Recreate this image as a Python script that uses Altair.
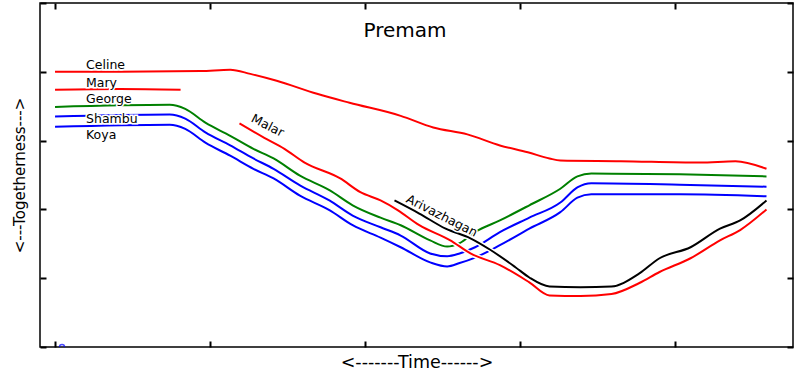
import altair as alt
import pandas as pd

# ---------------- data (x = time units, y = togetherness units) ----------------
TITLE = "Premam"
X_TITLE = "<-------Time------>"
Y_TITLE = "<---Togetherness--->"

series_names = ["Celine", "Mary", "George", "Shambu", "Koya", "Malar", "Arivazhagan"]
series_colors = ["#ff0000", "#ff0000", "#008000", "#0000ff", "#0000ff", "#ff0000", "#000000"]

celine_x = [0, 4.2, 9.4, 11.3, 12.6, 14.3, 16.9, 19.0, 22.3, 24.4, 26.6, 28.7, 30.5, 31.9, 32.6, 36.5, 41.6, 43.9, 45.9]
celine_y = [4.00, 4.00, 4.01, 4.03, 3.97, 3.87, 3.68, 3.55, 3.36, 3.19, 3.09, 2.93, 2.83, 2.74, 2.71, 2.70, 2.68, 2.70, 2.59]

mary_x = [0, 4.2, 8.1]
mary_y = [3.74, 3.75, 3.74]

group_x = [0, 7.4, 8.4, 9.7, 11.3, 12.8, 14.1, 15.8, 17.7, 19.2, 21.0, 22.3, 24.2, 25.3, 26.1, 27.1, 28.7, 30.6, 32.6, 33.7, 34.6, 40.3, 45.9]
george_y = [3.49, 3.52, 3.46, 3.26, 3.07, 2.88, 2.74, 2.49, 2.28, 2.06, 1.88, 1.77, 1.55, 1.46, 1.51, 1.67, 1.84, 2.06, 2.30, 2.48, 2.52, 2.51, 2.48]
shambu_y = [3.35, 3.38, 3.32, 3.12, 2.93, 2.74, 2.59, 2.35, 2.13, 1.91, 1.74, 1.62, 1.36, 1.32, 1.36, 1.45, 1.67, 1.88, 2.10, 2.32, 2.38, 2.36, 2.33]
koya_y = [3.20, 3.23, 3.17, 2.97, 2.78, 2.59, 2.45, 2.20, 1.99, 1.77, 1.59, 1.45, 1.23, 1.17, 1.22, 1.30, 1.48, 1.72, 1.96, 2.17, 2.22, 2.22, 2.19]

malar_x = [11.9, 13.5, 14.8, 16.1, 18.4, 19.7, 21.0, 22.1, 23.5, 25.5, 26.8, 28.7, 30.6, 31.9, 33.9, 35.9, 37.7, 39.0, 41.0, 42.9, 44.2, 45.9]
malar_y = [3.25, 3.04, 2.88, 2.68, 2.45, 2.25, 2.13, 1.99, 1.77, 1.55, 1.36, 1.19, 0.94, 0.75, 0.74, 0.77, 0.93, 1.09, 1.29, 1.55, 1.70, 2.00]

ariv_x = [21.9, 23.5, 25.2, 26.8, 28.1, 29.7, 30.6, 31.9, 33.9, 35.9, 37.7, 39.0, 41.0, 42.9, 44.2, 45.9]
ariv_y = [2.13, 1.94, 1.72, 1.58, 1.41, 1.16, 1.01, 0.88, 0.87, 0.88, 1.07, 1.29, 1.45, 1.72, 1.84, 2.13]

label_x = [2.0, 2.0, 2.0, 2.0, 2.0, 12.6, 22.6]
label_y = [4.04, 3.78, 3.54, 3.25, 3.03, 3.28, 2.11]
label_angle = [0, 0, 0, 0, 0, 27, 27]

marker_x = [0.45]
marker_y = [0.0]

x_ticks = [0, 10, 20, 30, 40]
y_ticks = [0, 1, 2, 3, 4, 5]
X_DOMAIN = [-0.97, 47.61]
Y_DOMAIN = [0, 5]

# ---------------- build tables ----------------
series_xy = [
    (celine_x, celine_y),
    (mary_x, mary_y),
    (group_x, george_y),
    (group_x, shambu_y),
    (group_x, koya_y),
    (malar_x, malar_y),
    (ariv_x, ariv_y),
]
frames = []
for name, (xv, yv) in zip(series_names, series_xy):
    frames.append(pd.DataFrame({"series": name, "t": xv, "v": yv}))
df = pd.concat(frames, ignore_index=True)

labels = pd.DataFrame({"name": series_names, "t": label_x, "v": label_y, "angle": label_angle})
marker = pd.DataFrame({"t": marker_x, "v": marker_y})
title_df = pd.DataFrame({"title": [TITLE]})

FONT = "DejaVu Sans"

xscale = alt.Scale(domain=X_DOMAIN, nice=False, zero=False)
yscale = alt.Scale(domain=Y_DOMAIN, nice=False, zero=False)

common_axis = dict(domain=False, labels=False, grid=False, tickSize=6, tickWidth=2,
                   tickColor="black", offset=-6)

x_bottom = alt.X("t:Q", scale=xscale, axis=alt.Axis(orient="bottom", values=x_ticks, title=X_TITLE,
                                                     titleFont=FONT, titleFontSize=17.5, titleFontWeight="normal",
                                                     titlePadding=5, titleColor="black", **common_axis))
y_left = alt.Y("v:Q", scale=yscale, axis=alt.Axis(orient="left", values=y_ticks, title=Y_TITLE,
                                                   titleFont=FONT, titleFontSize=15, titleFontWeight="normal",
                                                   titlePadding=12, titleColor="black", **common_axis))

layers = []
for name, color in zip(series_names, series_colors):
    base = alt.Chart(df).transform_filter(alt.datum.series == name)
    layers.append(base.mark_line(color="white", strokeWidth=5, interpolate="monotone", clip=True)
                  .encode(x=x_bottom, y=y_left))
    layers.append(base.mark_line(color=color, strokeWidth=2, interpolate="monotone", clip=True)
                  .encode(x=x_bottom, y=y_left))

text_base = alt.Chart(labels).encode(
    x=x_bottom, y=y_left, text="name:N", angle=alt.Angle("angle:Q", scale=None)
)
layers.append(text_base.mark_text(align="left", baseline="alphabetic", font=FONT, fontSize=12.5,
                                  stroke="white", strokeWidth=3, fill="white"))
layers.append(text_base.mark_text(align="left", baseline="alphabetic", font=FONT, fontSize=12.5,
                                  color="black"))

layers.append(alt.Chart(marker).mark_point(shape="circle", filled=False, color="#0000ff", size=25,
                                           strokeWidth=1.5, clip=True).encode(x=x_bottom, y=y_left))

layers.append(alt.Chart(title_df).mark_text(align="center", baseline="alphabetic", font=FONT,
                                            fontSize=20, color="black").encode(
    text="title:N", x=alt.value(365), y=alt.value(34)))

main = alt.layer(*layers)

frame_axes = alt.Chart(df).mark_point(opacity=0).encode(
    x=alt.X("t:Q", scale=xscale, axis=alt.Axis(orient="top", values=x_ticks, title=None, **common_axis)),
    y=alt.Y("v:Q", scale=yscale, axis=alt.Axis(orient="right", values=y_ticks, title=None, **common_axis)),
)

chart = alt.layer(main, frame_axes).resolve_axis(x="independent", y="independent").properties(
    width=753, height=344,
    autosize=alt.AutoSizeParams(type="none"),
    padding={"left": 40, "top": 3, "right": 7, "bottom": 28},
    background="white",
).configure_view(stroke="black", strokeWidth=1.5)

chart.save("out.html", embed_options={"renderer": "svg", "actions": False})
